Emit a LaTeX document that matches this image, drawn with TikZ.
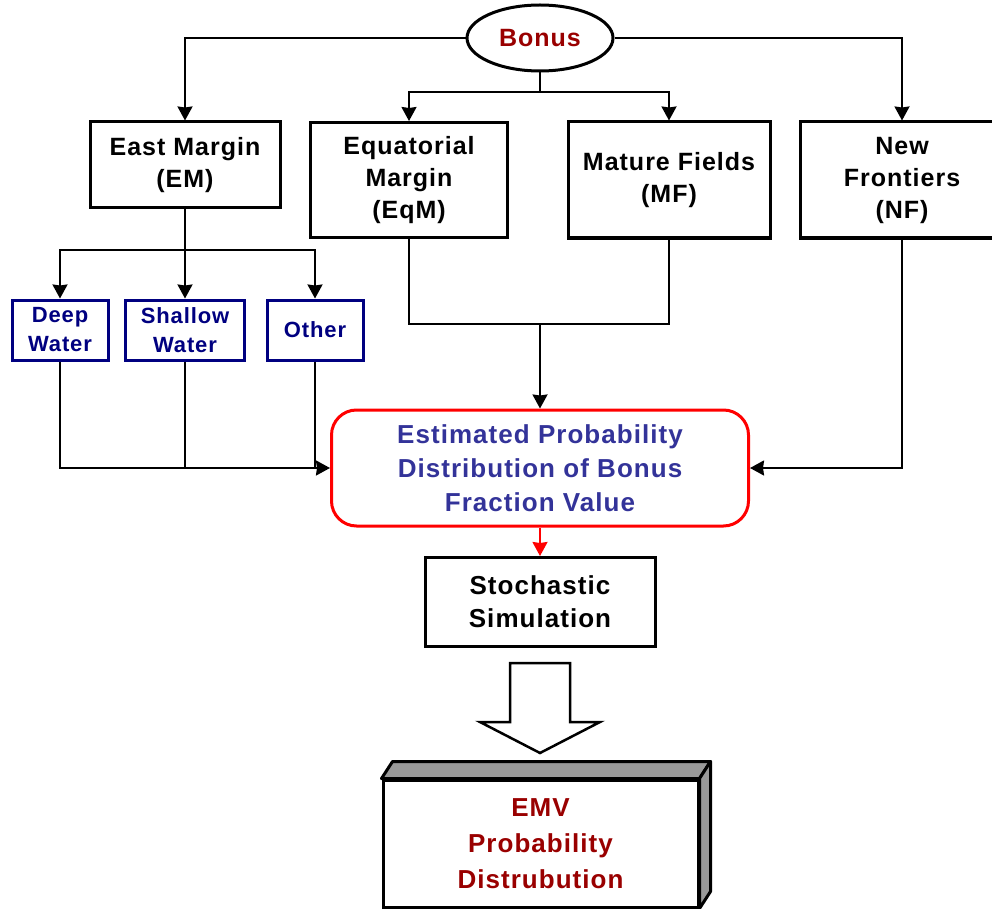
\documentclass[tikz,border=0pt]{standalone}
\usepackage{fontspec}
\setmainfont{Liberation Sans}[LetterSpace=4]
\usetikzlibrary{shapes.geometric,arrows.meta}
\definecolor{bonusred}{RGB}{153,0,0}
\definecolor{probblue}{RGB}{51,51,153}
\definecolor{subnavy}{RGB}{0,0,128}
\definecolor{facegray}{RGB}{153,153,153}
\begin{document}
\begin{tikzpicture}[x=1pt,y=-1pt,>={Stealth[length=14pt,width=15pt,inset=1pt]}]

    \tikzset{boxstyle/.style={draw,line width=3pt,align=center,inner sep=0pt,font=\fontsize{25}{32}\selectfont\bfseries}}
    \tikzset{substyle/.style={draw=subnavy,text=subnavy,line width=3pt,align=center,inner sep=0pt,minimum height=60pt,font=\fontsize{22}{29}\selectfont\bfseries}}
    \tikzset{linkstyle/.style={line width=2pt}}

    \useasboundingbox (0,0) rectangle (992,909);
    \clip (0,0) rectangle (992,909);

    \node[ellipse,draw,line width=3pt,minimum width=146pt,minimum height=66pt,text=bonusred,font=\fontsize{25}{30}\selectfont\bfseries] (bonus) at (540,38) {Bonus};

    \node[boxstyle,minimum width=190pt,minimum height=86pt] (em) at (185,165) {East Margin\\(EM)};
    \node[boxstyle,minimum width=197pt,minimum height=115pt] (eqm) at (409,180) {Equatorial\\Margin\\(EqM)};
    \node[boxstyle,minimum width=202pt,minimum height=116pt] (mf) at (669,180) {Mature Fields\\(MF)};
    \node[boxstyle,minimum width=204pt,minimum height=116pt] (nf) at (902,180) {New\\Frontiers\\(NF)};

    \node[substyle,minimum width=96pt] (dw) at (60,330) {Deep\\Water};
    \node[substyle,minimum width=119pt] (sw) at (185,330) {Shallow\\Water};
    \node[substyle,minimum width=96pt] (ot) at (315,330) {Other};

    \node[draw=red,line width=3pt,rounded corners=25pt,align=center,minimum width=417pt,minimum height=116pt,text=probblue,font=\fontsize{26}{34}\selectfont\bfseries] (prob) at (540,468) {Estimated Probability\\Distribution of Bonus\\Fraction Value};
    \node[boxstyle,minimum width=230pt,minimum height=89pt,font=\fontsize{26}{33}\selectfont\bfseries] (stoch) at (540,602) {Stochastic\\Simulation};
    \node[boxstyle,minimum width=315pt,minimum height=127pt,text=bonusred,font=\fontsize{26}{36}\selectfont\bfseries] (emv) at (540.5,843.5) {EMV\\Probability\\Distrubution};

    \coordinate (topsplit) at (540,92);
    \coordinate (emsplit) at (185,250);
    \coordinate (midjoin) at (540,324);

    \begin{scope}[every path/.style={linkstyle}]
        \draw[->] (bonus.west) -| (em.north);
        \draw[->] (bonus.east) -| (nf.north);
        \draw (bonus.south) -- (topsplit);
        \draw[->] (topsplit) -| (eqm.north);
        \draw[->] (topsplit) -| (mf.north);

        \draw (em.south) -- (emsplit);
        \draw[->] (emsplit) -| (dw.north);
        \draw[->] (emsplit) -- (sw.north);
        \draw[->] (emsplit) -| (ot.north);

        \draw[->] (dw.south) |- (prob.west);
        \draw (sw.south) -- (sw.south |- prob.west);
        \draw (ot.south) -- (ot.south |- prob.west);

        \draw (eqm.south) |- (midjoin);
        \draw (mf.south) |- (midjoin);
        \draw[->] (midjoin) -- (prob.north);
        \draw[->] (nf.south) |- (prob.east);

        \draw[->,red] (prob.south) -- (stoch.north);
    \end{scope}

    % block arrow and 3d faces
    \draw[line width=2.5pt,fill=white] (510,663) -- (570,663) -- (570,722) -- (600,722) -- (540,753) -- (480,722) -- (510,722) -- cycle;
    \draw[line width=3pt,fill=facegray,line join=round] (emv.north west) -- ([shift={(11,-17)}]emv.north west) -- ([shift={(11,-17)}]emv.north east) -- (emv.north east) -- cycle;
    \draw[line width=3pt,fill=facegray,line join=round] (emv.north east) -- ([shift={(11,-17)}]emv.north east) -- ([shift={(11,-17)}]emv.south east) -- (emv.south east) -- cycle;
\end{tikzpicture}
\end{document}
